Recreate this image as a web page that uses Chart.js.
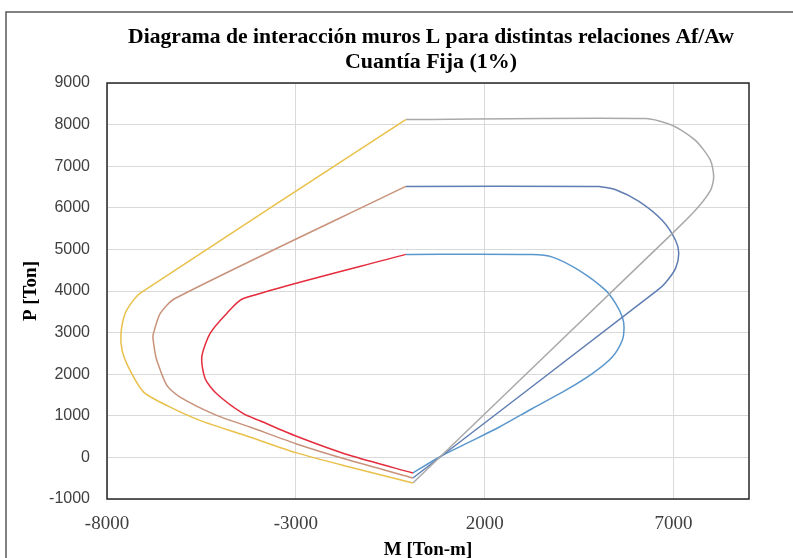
<!DOCTYPE html>
<html>
<head>
<meta charset="utf-8">
<script src="https://cdn.jsdelivr.net/npm/chart.js@4.4.1/dist/chart.umd.min.js"></script>
<style>
  html, body { margin: 0; padding: 0; background: #ffffff; }
  #wrap { width: 793px; height: 558px; position: relative; }
</style>
</head>
<body>
<div id="wrap"><canvas id="chart" width="793" height="558"></canvas></div>
<script>
// Chart text
const titleLines = ['Diagrama de interacción muros L para distintas relaciones Af/Aw', 'Cuantía Fija (1%)'];
const xAxisTitle = 'M [Ton-m]';
const yAxisTitle = 'P [Ton]';

// Axis ticks
const xTickValues = [-8000, -3000, 2000, 7000];
const xMin = -8000, xMax = 9000;
const yMin = -1000, yMax = 9000, yStep = 1000;

// Outer wall curve (largest Af/Aw), negative moment branch: M [Ton-m], P [Ton]
const mOuterNeg = [-90, -7120, -7300, -7520, -7630, -7600, -7390, -7030, -6420, -5540, -4220, -3000, -1580, 100];
const pOuterNeg = [8120, 3950, 3780, 3460, 2980, 2570, 2090, 1570, 1250, 890, 490, 115, -230, -615];
// Outer wall curve, positive moment branch
const mOuterPos = [100, 6965, 7580, 7980, 8065, 7980, 7580, 6965, 6260, -90];
const pOuterPos = [-615, 5380, 5940, 6420, 6740, 7140, 7620, 7985, 8145, 8120];

// Middle wall curve, negative moment branch
const mMidNeg = [-90, -6200, -6590, -6770, -6785, -6725, -6680, -6415, -6065, -5095, -4215, -3000, -1575, 100];
const pMidNeg = [6515, 3820, 3460, 2980, 2890, 2500, 2330, 1730, 1450, 1010, 730, 330, -70, -495];
// Middle wall curve, positive moment branch
const mMidPos = [100, 6570, 6790, 7055, 7140, 7055, 6700, 6085, 5470, 5030, 4850, -90];
const pMidPos = [-495, 4015, 4200, 4545, 4900, 5220, 5700, 6155, 6435, 6510, 6515, 6515];

// Inner wall curve (smallest Af/Aw), negative moment branch
const mInnerNeg = [-90, -4390, -4830, -5270, -5490, -5400, -5095, -4390, -3950, -3000, -1575, 100];
const pInnerNeg = [4880, 3820, 3460, 2980, 2410, 1890, 1530, 1050, 880, 515, 50, -375];
// Inner wall curve, positive moment branch
const mInnerPos = [100, 805, 1510, 2390, 3265, 4150, 4850, 5380, 5645, 5690, 5645, 5470, 5205, 4500, 3795, 3265, -90];
const pInnerPos = [-375, 10, 330, 730, 1175, 1615, 2015, 2415, 2815, 3135, 3375, 3695, 4015, 4495, 4815, 4875, 4880];

function pts(ms, ps) { return ms.map((m, i) => ({ x: m, y: ps[i] })); }

function curve(label, ms, ps, color) {
  return {
    label: label,
    data: pts(ms, ps),
    showLine: true,
    borderColor: color,
    backgroundColor: color,
    borderWidth: 1.5,
    pointRadius: 0,
    pointHoverRadius: 0,
    tension: 0.25,
    fill: false
  };
}

const datasets = [
  curve('Exterior (-)', mOuterNeg, pOuterNeg, '#E8C04A'),
  curve('Exterior (+)', mOuterPos, pOuterPos, '#A9A9A9'),
  curve('Intermedio (-)', mMidNeg, pMidNeg, '#C8927A'),
  curve('Intermedio (+)', mMidPos, pMidPos, '#5F7DB2'),
  curve('Interior (-)', mInnerNeg, pInnerNeg, '#E42C3C'),
  curve('Interior (+)', mInnerPos, pInnerPos, '#5A97CD')
];

// Draws text squeezed horizontally so that it spans the given width
function fitText(ctx, text, x, y, width) {
  const w = ctx.measureText(text).width;
  ctx.save();
  ctx.translate(x, y);
  ctx.scale(width / w, 1);
  ctx.fillText(text, 0, 0);
  ctx.restore();
}

// Frame, plot border, titles
const decorations = {
  id: 'decorations',
  beforeDraw(chart) {
    const ctx = chart.ctx;
    ctx.save();
    ctx.fillStyle = '#ffffff';
    ctx.fillRect(0, 0, chart.width, chart.height);
    ctx.strokeStyle = '#595959';
    ctx.lineWidth = 1.5;
    ctx.beginPath();
    ctx.moveTo(6, chart.height);
    ctx.lineTo(6, 12);
    ctx.lineTo(chart.width, 12);
    ctx.stroke();
    ctx.restore();
  },
  afterDraw(chart) {
    const ctx = chart.ctx;
    const a = chart.chartArea;
    ctx.save();
    ctx.strokeStyle = '#262626';
    ctx.lineWidth = 1.5;
    ctx.strokeRect(a.left, a.top, a.right - a.left, a.bottom - a.top);

    const cx = (a.left + a.right) / 2 + 3;
    ctx.fillStyle = '#000000';
    ctx.textAlign = 'center';
    ctx.textBaseline = 'alphabetic';
    ctx.font = 'bold 22px "Liberation Serif"';
    fitText(ctx, titleLines[0], cx, 43, 606);
    fitText(ctx, titleLines[1], cx, 68, 172);

    ctx.font = 'bold 19px "Liberation Serif"';
    ctx.fillText(xAxisTitle, cx - 3, 555);

    ctx.translate(31, (a.top + a.bottom) / 2);
    ctx.rotate(-Math.PI / 2);
    ctx.textBaseline = 'middle';
    ctx.fillText(yAxisTitle, 0, 0);
    ctx.restore();
  }
};

new Chart(document.getElementById('chart'), {
  type: 'scatter',
  data: { datasets: datasets },
  options: {
    responsive: false,
    animation: false,
    layout: { padding: { top: 83, right: 44, left: 0, bottom: 0 } },
    plugins: {
      legend: { display: false },
      title: { display: false },
      tooltip: { enabled: false }
    },
    scales: {
      x: {
        type: 'linear',
        min: xMin,
        max: xMax,
        afterBuildTicks(scale) { scale.ticks = xTickValues.map(v => ({ value: v })); },
        afterFit(scale) { scale.height = 59; },
        grid: { color: '#D9D9D9', lineWidth: 1, drawTicks: false },
        border: { display: false },
        ticks: {
          padding: 14,
          maxRotation: 0,
          color: '#404040',
          font: { family: '"Liberation Serif"', size: 19 },
          callback: v => String(v)
        }
      },
      y: {
        type: 'linear',
        min: yMin,
        max: yMax,
        afterFit(scale) { scale.width = 107; },
        grid: { color: '#D9D9D9', lineWidth: 1, drawTicks: false },
        border: { display: false },
        ticks: {
          stepSize: yStep,
          padding: 17,
          color: '#404040',
          font: { family: '"Liberation Sans"', size: 16 },
          callback: v => String(v)
        }
      }
    }
  },
  plugins: [decorations]
});
</script>
</body>
</html>
